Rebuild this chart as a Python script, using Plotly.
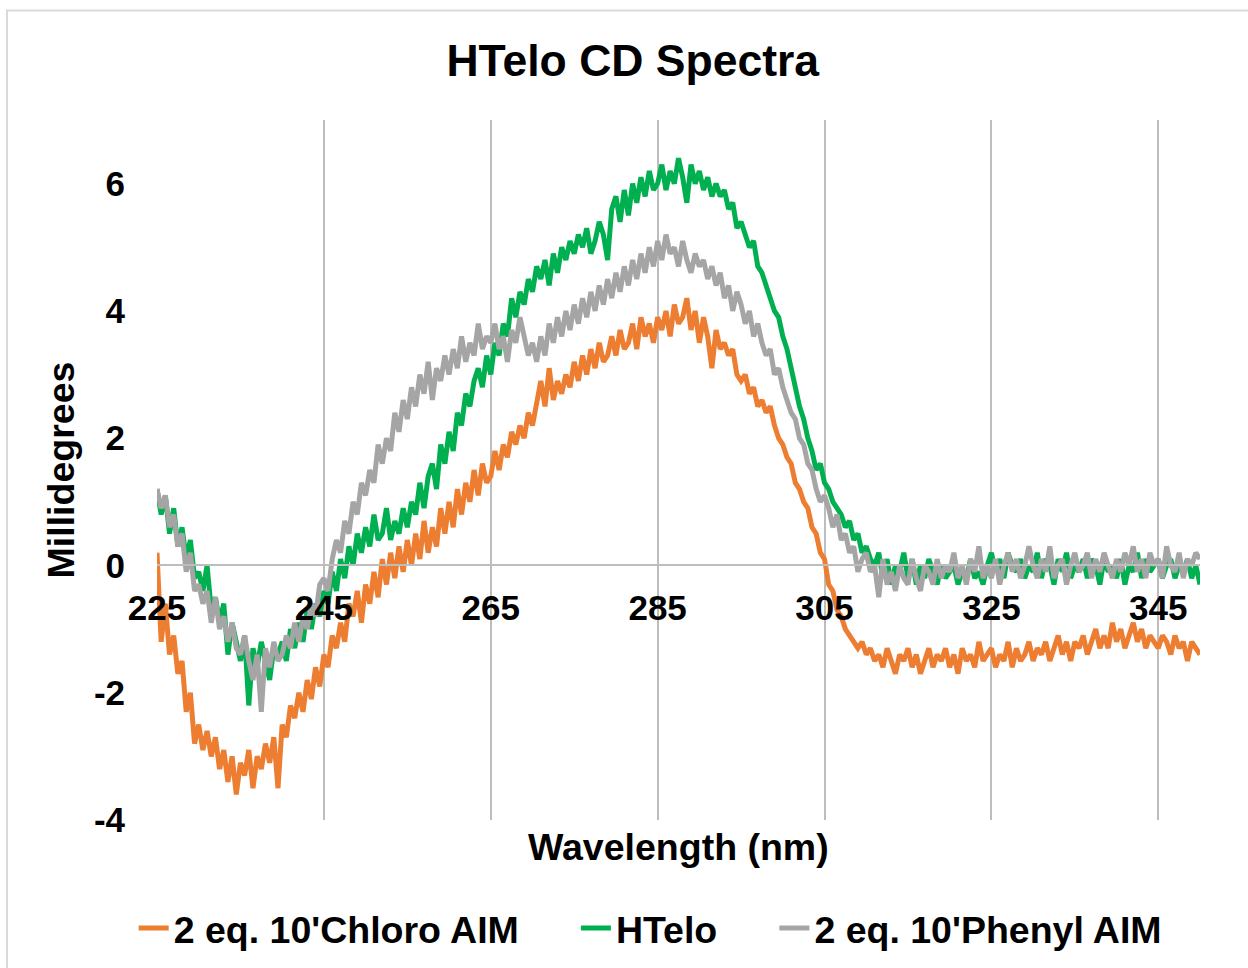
import plotly.graph_objects as go

wavelength_start = 225.0
wavelength_step = 0.5

chloro = [
    0.2, -1.2, -0.6, -1.4, -1.1, -1.7, -1.5, -2.3, -2.0, -2.8,
    -2.5, -2.9, -2.6, -3.0, -2.7, -3.2, -2.9, -3.4, -3.0, -3.6,
    -3.1, -3.3, -2.9, -3.5, -3.0, -3.2, -2.8, -3.1, -2.7, -3.5,
    -2.5, -2.7, -2.2, -2.4, -2.0, -2.3, -1.8, -2.1, -1.6, -1.9,
    -1.4, -1.6, -1.1, -1.3, -0.9, -1.2, -0.6, -0.8, -0.4, -0.9,
    -0.3, -0.6, -0.1, -0.5, 0.1, -0.3, 0.2, -0.2, 0.3, -0.1,
    0.4, 0.0, 0.5, 0.1, 0.7, 0.2, 0.6, 0.3, 0.9, 0.5,
    1.0, 0.6, 1.2, 0.8, 1.3, 1.0, 1.5, 1.1, 1.6, 1.3,
    1.4, 1.8, 1.5, 1.9, 1.7, 2.1, 1.9, 2.2, 2.0, 2.4,
    2.2, 2.6, 2.9, 2.5, 3.1, 2.6, 2.9, 2.7, 3.0, 2.8,
    3.2, 2.9, 3.3, 3.0, 3.4, 3.1, 3.5, 3.2, 3.3, 3.6,
    3.3, 3.7, 3.4, 3.5, 3.8, 3.4, 3.9, 3.6, 3.8, 3.5,
    3.9, 3.7, 4.0, 3.6, 4.1, 3.8, 3.9, 4.2, 3.7, 4.0,
    3.5, 3.9, 3.6, 3.1, 3.7, 3.4, 3.5, 3.3, 3.4, 3.0,
    2.9, 3.0, 2.7, 2.8, 2.5, 2.6, 2.4, 2.5, 2.2, 2.0,
    1.9, 1.7, 1.6, 1.3, 1.2, 1.0, 0.9, 0.6, 0.5, 0.2,
    0.1, -0.3, -0.4, -0.7, -0.8, -1.0, -1.1, -1.2, -1.3, -1.2,
    -1.4, -1.3, -1.5, -1.4, -1.6, -1.3, -1.5, -1.7, -1.4, -1.5,
    -1.3, -1.6, -1.4, -1.7, -1.5, -1.3, -1.6, -1.4, -1.5, -1.3,
    -1.6, -1.4, -1.7, -1.3, -1.5, -1.4, -1.6, -1.2, -1.5, -1.4,
    -1.3, -1.6, -1.4, -1.5, -1.2, -1.6, -1.3, -1.5, -1.4, -1.2,
    -1.5, -1.3, -1.4, -1.2, -1.5, -1.3, -1.1, -1.4, -1.2, -1.5,
    -1.2, -1.3, -1.1, -1.4, -1.2, -1.0, -1.3, -1.1, -1.3, -0.9,
    -1.2, -1.0, -1.3, -1.1, -0.9, -1.2, -1.0, -1.3, -1.1, -1.2,
    -1.3, -1.1, -1.2, -1.4, -1.1, -1.3, -1.2, -1.5, -1.2, -1.3,
    -1.4,
]

htelo = [
    1.2, 0.8, 1.1, 0.5, 0.9, 0.3, 0.6, 0.1, 0.4, -0.2,
    -0.1, -0.4, 0.0, -0.7, -0.5, -0.9, -0.6, -1.4, -0.9, -1.2,
    -1.5, -1.1, -2.2, -1.3, -1.6, -1.2, -1.5, -1.8, -1.3, -1.4,
    -1.2, -1.5, -1.0, -1.3, -0.9, -1.2, -0.7, -1.0, -0.6, -0.8,
    -0.4, -0.6, -0.1, -0.4, 0.1, -0.2, 0.3, 0.0, 0.5, 0.2,
    0.6, 0.3, 0.8, 0.4, 0.5, 0.9, 0.4, 0.7, 0.5, 0.9,
    0.6, 1.0, 0.8, 1.3, 0.9, 1.4, 1.6, 1.2, 1.9, 1.6,
    2.1, 1.8, 2.4, 2.2, 2.7, 2.5, 2.9, 3.1, 2.8, 3.3,
    3.0, 3.5, 3.3, 3.8, 3.6, 4.2, 3.9, 4.3, 4.1, 4.5,
    4.3, 4.7, 4.5, 4.8, 4.4, 4.9, 4.6, 5.0, 4.8, 5.1,
    4.9, 5.2, 5.0, 5.3, 4.9, 5.1, 5.4, 5.2, 4.8, 5.6,
    5.8, 5.4, 5.9, 5.5, 6.0, 5.7, 6.1, 5.8, 6.2, 5.9,
    6.0, 6.3, 5.9, 6.2, 6.0, 6.4, 6.1, 5.7, 6.3, 6.0,
    6.2, 5.9, 6.1, 5.8, 6.0, 5.8, 5.9, 5.6, 5.7, 5.3,
    5.4, 5.2, 5.0, 5.1, 4.7, 4.6, 4.4, 4.2, 4.0, 3.9,
    3.6, 3.4, 3.1, 2.8, 2.5, 2.3, 2.0, 1.8, 1.5, 1.6,
    1.3, 1.2, 1.0, 0.9, 0.8, 0.6, 0.7, 0.4, 0.5, 0.2,
    0.3, 0.1, 0.0, 0.2, -0.2, 0.1, -0.3, 0.0, -0.1, 0.2,
    -0.2, 0.1, -0.3, 0.0, -0.2, 0.1, -0.1, -0.3, 0.0, -0.2,
    -0.1, 0.0, -0.3, -0.1, -0.2, 0.1, -0.2, -0.1, -0.3, 0.0,
    0.2, -0.1, 0.1, -0.2, 0.2, 0.0, -0.1, 0.1, -0.2, 0.0,
    -0.1, 0.2, -0.2, 0.1, 0.0, -0.3, 0.1, -0.1, 0.2, -0.2,
    0.0, -0.1, 0.1, -0.2, 0.1, 0.0, -0.3, 0.1, -0.1, 0.0,
    -0.2, 0.1, -0.3, 0.0, -0.1, 0.2, -0.2, 0.1, -0.1, 0.0,
    0.1, -0.2, 0.0, 0.1, -0.2, 0.0, -0.1, 0.1, -0.2, 0.0,
    -0.3,
]

phenyl = [
    1.2, 0.9, 1.1, 0.6, 0.8, 0.3, 0.5, -0.1, 0.2, -0.4,
    -0.3, -0.6, -0.4, -0.9, -0.5, -1.0, -0.8, -1.2, -0.9, -1.3,
    -1.4, -1.1, -1.5, -1.8, -1.4, -2.3, -1.3, -1.6, -1.2, -1.5,
    -1.4, -1.1, -1.3, -0.9, -1.2, -0.8, -1.0, -0.6, -0.8, -0.3,
    -0.2, -0.4, 0.1, 0.4, 0.2, 0.7, 0.5, 1.0, 0.8, 1.3,
    1.1, 1.5, 1.3, 1.9, 1.6, 2.0, 1.8, 2.4, 2.1, 2.6,
    2.3, 2.8, 2.5, 3.0, 2.7, 3.2, 2.6, 3.1, 2.9, 3.3,
    3.0, 3.4, 3.1, 3.6, 3.2, 3.5, 3.3, 3.8, 3.4, 3.6,
    3.5, 3.8, 3.4, 3.6, 3.2, 3.7, 3.5, 3.9, 3.6, 3.3,
    3.5, 3.2, 3.6, 3.3, 3.8, 3.5, 3.9, 3.6, 4.0, 3.7,
    4.1, 3.8, 4.2, 3.9, 4.3, 4.0, 4.4, 4.1, 4.5, 4.2,
    4.6, 4.3, 4.7, 4.4, 4.8, 4.5, 4.9, 4.6, 5.0, 4.7,
    5.1, 4.8, 5.2, 4.9, 5.0, 4.7, 5.1, 4.8, 4.6, 4.9,
    4.7, 4.8, 4.5, 4.7, 4.4, 4.6, 4.2, 4.4, 4.0, 4.3,
    4.1, 3.8, 4.0, 3.6, 3.8, 3.5, 3.3, 3.4, 3.0, 3.1,
    2.8, 2.6, 2.4, 2.3, 2.0, 1.9, 1.6, 1.5, 1.2, 1.0,
    1.1, 0.9, 0.6, 0.8, 0.4, 0.5, 0.2, 0.3, -0.1, 0.1,
    0.2, -0.1, 0.0, -0.5, 0.1, -0.3, -0.1, -0.4, 0.0, -0.2,
    -0.3, 0.1, -0.2, -0.4, 0.0, -0.1, -0.3, 0.1, -0.2, 0.0,
    -0.1, 0.2, -0.2, 0.0, -0.3, 0.1, -0.1, 0.3, -0.2, 0.0,
    -0.2, 0.1, -0.3, 0.0, 0.2, -0.1, 0.1, -0.2, 0.0, 0.3,
    0.0, -0.2, 0.1, -0.1, 0.3, -0.2, 0.0, 0.1, -0.3, 0.0,
    0.2, -0.1, 0.0, 0.2, -0.2, 0.1, -0.1, 0.2, 0.0, -0.2,
    0.1, -0.1, 0.2, 0.0, 0.3, -0.1, 0.1, -0.2, 0.2, 0.0,
    0.1, -0.2, 0.3, 0.0, -0.1, 0.2, -0.2, 0.1, 0.0, 0.2,
    0.1,
]

wavelengths = [wavelength_start + i * wavelength_step for i in range(len(htelo))]

series_names = ["2 eq. 10'Chloro AIM", "HTelo", "2 eq. 10'Phenyl AIM"]
series_values = [chloro, htelo, phenyl]
series_colors = ["#ED7D31", "#00B050", "#A5A5A5"]

x_ticks = [225, 245, 265, 285, 305, 325, 345]
y_ticks = [-4, -2, 0, 2, 4, 6]

FONT = "Liberation Sans, Arial, sans-serif"
NB = "\u00a0"
legend_gaps = [NB * 5, NB * 5, ""]

fig = go.Figure()
for name, vals, col, gap in zip(series_names, series_values, series_colors, legend_gaps):
    fig.add_trace(go.Scatter(
        x=wavelengths, y=vals, mode="lines", name=f"<b>{name}</b>" + gap,
        line=dict(color=col, width=5),
    ))

y_min, y_max = -4, 7
zero_frac = (0 - y_min) / (y_max - y_min)

fig.update_layout(
    width=1248, height=968,
    margin=dict(l=157, r=48, t=120, b=148),
    paper_bgcolor="white", plot_bgcolor="white",
    font=dict(family=FONT, color="black"),
    title=dict(
        text="<b>HTelo CD Spectra</b>", font=dict(size=44.5, family=FONT),
        x=0.507, xref="container", xanchor="center",
        y=1 - 60 / 968, yref="container", yanchor="middle",
    ),
    showlegend=True,
    legend=dict(
        orientation="h", x=0.521, xref="container", xanchor="center",
        y=1 - 928 / 968, yref="container", yanchor="middle",
        font=dict(size=37.5, family=FONT),
        traceorder="normal",
    ),
    xaxis=dict(
        range=[225, 350], tickmode="array", tickvals=x_ticks,
        ticktext=[f"<b>{t}</b>" for t in x_ticks],
        tickfont=dict(size=35, family=FONT),
        showgrid=True, gridcolor="#BDBDBD", gridwidth=2,
        showline=True, linecolor="#BDBDBD", linewidth=2,
        anchor="free", position=zero_frac,
        ticks="", ticklabelstandoff=12,
        zeroline=False,
    ),
    yaxis=dict(
        range=[y_min, y_max], tickmode="array", tickvals=y_ticks,
        ticktext=[f"<b>{t}</b>" for t in y_ticks],
        tickfont=dict(size=35, family=FONT),
        showgrid=False, zeroline=False, showline=False,
        ticks="", ticklabelstandoff=31,
        title=dict(text="<b>Millidegrees</b>", font=dict(size=37.5, family=FONT), standoff=7),
    ),
    annotations=[dict(
        text="<b>Wavelength (nm)</b>", xref="paper", yref="paper",
        x=0.5, y=-27 / 700, xanchor="center", yanchor="middle",
        showarrow=False, font=dict(size=37.5, family=FONT),
    )],
    shapes=[dict(
        type="rect", xref="paper", yref="paper",
        x0=(7 - 157) / 1043, x1=1.2, y0=-0.5, y1=(820 - 10.5) / 700,
        line=dict(color="#D9D9D9", width=2), fillcolor="rgba(0,0,0,0)", layer="below",
    )],
)

fig.write_html("out.html")
